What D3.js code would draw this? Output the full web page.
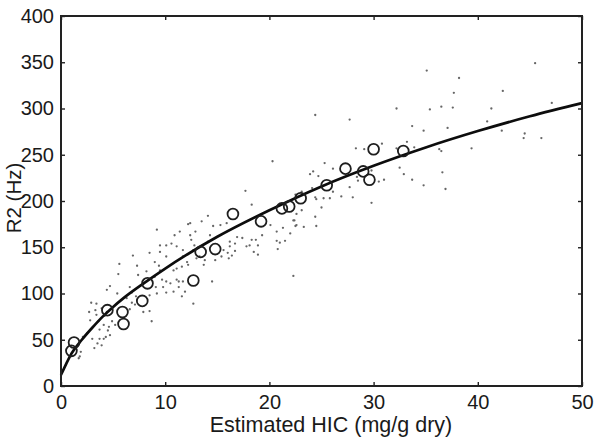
<!DOCTYPE html>
<html>
<head>
<meta charset="utf-8">
<script src="https://cdn.jsdelivr.net/npm/d3@7"></script>
<style>
  html, body { margin: 0; padding: 0; background: #fff; }
  svg { display: block; }
  text { font-family: "Liberation Sans", Arial, sans-serif; fill: #1a1a1a; }
</style>
</head>
<body>
<svg id="chart" width="600" height="442"></svg>
<script>
// ---- data ----
const xTicks = [0, 10, 20, 30, 40, 50];
const yTicks = [0, 50, 100, 150, 200, 250, 300, 350, 400];
const xLabel = "Estimated HIC (mg/g dry)";
const yLabel = "R2 (Hz)";

// fitted calibration curve (HIC, R2)
const curveX = [0, 0.5, 1, 2, 3, 4, 5, 6, 8, 10, 12, 15, 20, 25, 30, 35, 40, 45, 50];
const curveY = [12, 24, 35, 50, 63, 75, 85.5, 95, 111.5, 127, 141.4, 161.3, 190, 215.8, 238.1, 257.9, 275.6, 291.6, 305.8];

// biopsy subjects (open circles)
const circleX = [1.25, 1.0, 4.45, 5.9, 6.0, 7.8, 8.3, 12.7, 13.4, 14.8, 16.5, 19.2, 21.2, 21.9, 23.0, 25.5, 27.3, 29.0, 29.6, 30.0, 32.85];
const circleY = [47, 38, 82, 80, 67, 92, 111, 114, 145, 148, 186, 178, 192, 194, 203, 217, 235, 232, 223, 256, 254];

// other subjects (small dots)
const dotX = [6.9, 8.5, 9.5, 10.1, 5.6, 7.3, 9.0, 9.4, 9.5, 5.5, 7.4, 8.2, 9.0, 9.7, 10.1, 10.5, 9.8, 9.1, 10.1, 9.2, 8.5, 10.8, 11.3, 4.7, 4.4, 5.4, 6.6, 6.8, 7.2, 6.8, 6.3, 7.1, 6.6, 8.5, 7.9, 8.7, 2.9, 3.4, 3.3, 2.7, 3.4, 3.9, 2.8, 3.6, 4.1, 4.6, 4.5, 4.9, 5.2, 3.7, 4.3, 4.1, 3.7, 3.5, 3.2, 3.9, 2.5, 2.1, 3.0, 1.8, 1.7, 1.9, 4.7, 4.2, 4.4,
  17.7, 18.3, 14.1, 13.5, 12.4, 14.6, 15.3, 15.9, 16.9, 17.4, 18.3, 18.7, 19.3, 20.1, 20.7, 21.3, 22.0, 22.4, 22.6, 20.7, 21.0, 21.5, 20.8, 17.8, 18.1, 18.9, 18.5, 18.9, 16.7, 16.2, 16.2, 16.7, 16.0, 16.4, 16.1, 15.6, 15.4, 14.3, 14.1, 12.9, 12.5, 12.8, 11.7, 11.1, 10.6, 10.9, 11.4, 12.4, 12.7, 13.3, 13.8, 13.7, 13.0, 12.1, 12.2, 11.6, 11.1, 10.8, 11.7, 14.8, 14.5, 11.7, 11.3, 11.9, 11.6, 11.1, 12.7, 22.3,
  24.4, 27.7, 33.7, 30.8, 28.3, 29.1, 32.2, 33.2, 25.3, 26.1, 24.2, 23.9, 24.7, 29.8, 32.5, 32.9, 28.4, 28.5, 30.5, 31.0, 33.7, 27.7, 26.1, 26.9, 28.0, 24.1, 25.2, 25.8, 24.4, 24.5, 23.1, 22.5, 25.0, 23.1, 22.6, 22.3, 22.5, 23.3, 24.4, 24.5, 29.8,
  35.1, 38.2, 37.7, 45.5, 42.4, 35.4, 36.5, 37.6, 41.3, 47.1, 34.8, 37.1, 40.9, 42.3, 44.5, 44.4, 46.1, 33.9, 36.3, 36.5, 39.4, 34.8, 36.6, 36.9, 32.2, 20.3, 9.2, 9.5, 10.1, 12.2];
const dotY = [141, 144, 145, 140, 132, 130, 134, 130, 125, 121, 120, 124, 118, 115, 113, 111, 107, 107, 101, 100, 98, 102, 113, 108, 104, 100, 107, 101, 97, 90, 95, 88, 83, 81, 80, 70, 90, 89, 82, 80, 77, 84, 71, 70, 66, 64, 60, 70, 66, 61, 53, 51, 51, 46, 41, 44, 57, 53, 51, 32, 30, 37, 55, 76, 80,
  211, 196, 184, 178, 176, 173, 174, 176, 161, 160, 158, 158, 163, 174, 167, 171, 165, 179, 174, 157, 155, 157, 148, 151, 152, 152, 145, 142, 154, 156, 151, 146, 144, 141, 138, 147, 140, 163, 156, 167, 158, 152, 147, 151, 154, 163, 167, 163, 147, 140, 136, 131, 138, 134, 131, 129, 127, 125, 140, 136, 113, 113, 107, 102, 97, 115, 89, 119,
  293, 288, 281, 262, 257, 256, 257, 264, 241, 235, 232, 229, 227, 233, 236, 229, 226, 222, 221, 223, 223, 215, 210, 205, 204, 214, 203, 203, 204, 202, 210, 207, 193, 190, 186, 179, 173, 172, 183, 173, 198,
  341, 333, 317, 349, 319, 299, 302, 301, 300, 306, 276, 279, 286, 276, 273, 268, 268, 258, 256, 254, 257, 217, 231, 213, 300, 243, 169, 152, 152, 175];

// ---- chart ----
const svg = d3.select("#chart");
const mLeft = 61, mRight = 582, mTop = 16, mBottom = 386;

const x = d3.scaleLinear().domain([0, 50]).range([mLeft, mRight]);
const y = d3.scaleLinear().domain([0, 400]).range([mBottom, mTop]);

// dots
svg.append("g").selectAll("circle")
  .data(d3.range(dotX.length))
  .join("circle")
  .attr("cx", i => x(dotX[i]))
  .attr("cy", i => y(dotY[i]))
  .attr("r", 1.15)
  .attr("fill", "#666");

// curve
const line = d3.line().x(i => x(curveX[i])).y(i => y(curveY[i])).curve(d3.curveMonotoneX);
svg.append("path")
  .attr("d", line(d3.range(curveX.length)))
  .attr("fill", "none")
  .attr("stroke", "#0d0d0d")
  .attr("stroke-width", 2.7);

// open circles
svg.append("g").selectAll("circle")
  .data(d3.range(circleX.length))
  .join("circle")
  .attr("cx", i => x(circleX[i]))
  .attr("cy", i => y(circleY[i]))
  .attr("r", 5.4)
  .attr("fill", "none")
  .attr("stroke", "#1e1e1e")
  .attr("stroke-width", 1.8);

// axes (inward ticks on all four sides)
const tl = 4;
const axB = svg.append("g").attr("transform", `translate(0,${mBottom})`)
  .call(d3.axisBottom(x).tickValues(xTicks).tickSizeInner(-tl).tickSizeOuter(0).tickPadding(9));
const axT = svg.append("g").attr("transform", `translate(0,${mTop})`)
  .call(d3.axisTop(x).tickValues(xTicks).tickSizeInner(-tl).tickSizeOuter(0).tickFormat(""));
const axL = svg.append("g").attr("transform", `translate(${mLeft},0)`)
  .call(d3.axisLeft(y).tickValues(yTicks).tickSizeInner(-tl).tickSizeOuter(0).tickPadding(7));
const axR = svg.append("g").attr("transform", `translate(${mRight},0)`)
  .call(d3.axisRight(y).tickValues(yTicks).tickSizeInner(-tl).tickSizeOuter(0).tickFormat(""));

[axB, axT, axL, axR].forEach(a => {
  a.select(".domain").remove();
  a.selectAll(".tick line").attr("stroke", "#222").attr("stroke-width", 1.4);
  a.selectAll("text").attr("font-size", 20).attr("font-family", "Liberation Sans, Arial, sans-serif").attr("fill", "#1a1a1a");
});
axB.selectAll("text").attr("dy", "0.71em");

// frame
svg.append("rect")
  .attr("x", mLeft).attr("y", mTop)
  .attr("width", mRight - mLeft).attr("height", mBottom - mTop)
  .attr("fill", "none").attr("stroke", "#222").attr("stroke-width", 2);

// labels
svg.append("text")
  .attr("x", 331).attr("y", 432)
  .attr("text-anchor", "middle").attr("font-size", 21.5)
  .text(xLabel);
svg.append("text")
  .attr("transform", `translate(21,198) rotate(-90)`)
  .attr("text-anchor", "middle").attr("font-size", 20.5)
  .text(yLabel);
</script>
</body>
</html>
